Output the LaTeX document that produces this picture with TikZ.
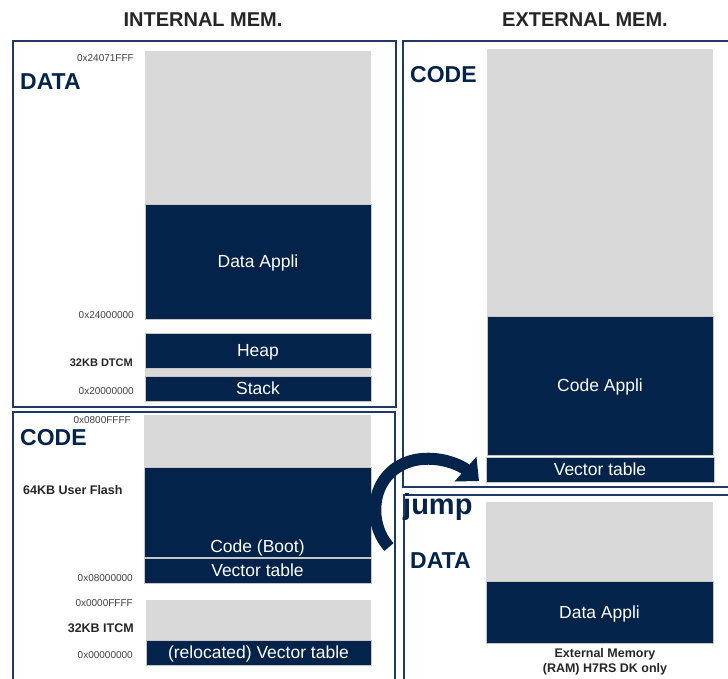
\documentclass[tikz,border=0pt]{standalone}
\usepackage{fontspec}
\setmainfont{Liberation Sans}
\usetikzlibrary{arrows.meta}
\definecolor{navy}{HTML}{03234B}
\definecolor{frame}{HTML}{1F3864}
\definecolor{greyfill}{HTML}{D9D9D9}
\definecolor{addrcol}{HTML}{404040}
\tikzset{
  darkblk/.style={fill=navy, draw=gray!45, line width=0.6pt, inner sep=0pt, text=white, text height=12.6pt, text depth=0pt, font=\fontsize{17.5}{20}\selectfont},
  greyblk/.style={fill=greyfill, draw=none, inner sep=0pt},
  addr/.style={anchor=east, text=addrcol, inner sep=0pt, font=\fontsize{10}{12}\selectfont},
  memlbl/.style={text=black!85, inner sep=0pt, font=\bfseries\fontsize{11}{13}\selectfont},
  sect/.style={anchor=west, text=navy, inner sep=0pt, font=\bfseries\fontsize{23}{26}\selectfont},
  titlelbl/.style={text=black!85, inner sep=0pt, font=\bfseries\fontsize{20}{22}\selectfont},
  outer/.style={draw=frame, line width=2pt},
  jumparrow/.style={draw=navy, line width=12pt, -{Triangle[width=32pt,length=18pt]}}
}
\begin{document}
\begin{tikzpicture}[x=1pt,y=-1pt]
\useasboundingbox (0,0) rectangle (728,679);
\clip (0,0) rectangle (728,679);
\fill[white] (0,0) rectangle (728,679);

% titles
\node[titlelbl] (tint) at (203,20) {INTERNAL MEM.};
\node[titlelbl] (text) at (585,20) {EXTERNAL MEM.};

% outer frames
\draw[outer] (13,41) rectangle (396,407);
\draw[outer] (13,412) rectangle (395,690);
\draw[outer] (403,41) rectangle (740,487);
\draw[outer] (404,495) rectangle (740,690);

% internal DATA
\node[greyblk, minimum width=226, minimum height=153] (dgrey) at (258,127.5) {};
\node[darkblk, minimum width=226, minimum height=115] (dapp) at (258,261.5) {Data Appli};
\node[greyblk, minimum width=226, minimum height=8] (hsgap) at (258,372) {};
\node[darkblk, minimum width=226, minimum height=35] (heap) at (258,350.5) {Heap};
\node[darkblk, minimum width=226, minimum height=25] (stack) at (258,388.5) {Stack};
\node[addr] (a1) at (134,58) {0x24071FFF};
\node[sect] (sdata) at (20,82) {DATA};
\node[addr] (a2) at (134,315) {0x24000000};
\node[memlbl, anchor=east] (dtcm) at (133,363) {32KB DTCM};
\node[addr] (a3) at (134,391) {0x20000000};

% internal CODE
\node[greyblk, minimum width=227, minimum height=52] (cgrey) at (257.5,441) {};
\node[darkblk, minimum width=227, minimum height=90] (cboot) at (257.5,512) {};
\node[text=white, inner sep=0pt, text height=12.6pt, text depth=0pt, font=\fontsize{17.5}{20}\selectfont] (cboott) at (257.5,546) {Code (Boot)};
\node[darkblk, minimum width=227, minimum height=25] (vt1) at (257.5,570.5) {Vector table};
\node[greyblk, minimum width=225, minimum height=40] (igrey) at (258.5,620) {};
\node[darkblk, minimum width=225, minimum height=25] (rvt) at (258.5,652.5) {(relocated) Vector table};
\node[addr] (a4) at (131,420) {0x0800FFFF};
\node[sect] (scode) at (20,438) {CODE};
\node[memlbl, anchor=west, font=\bfseries\fontsize{12.5}{15}\selectfont] (flash) at (23,490) {64KB User Flash};
\node[addr] (a5) at (133,578) {0x08000000};
\node[addr] (a6) at (133,603) {0x0000FFFF};
\node[memlbl, anchor=east, font=\bfseries\fontsize{12.5}{15}\selectfont] (itcm) at (134,628) {32KB ITCM};
\node[addr] (a7) at (133,655) {0x00000000};

% external CODE
\node[greyblk, minimum width=226, minimum height=267] (egrey) at (600,182.5) {};
\node[darkblk, minimum width=226, minimum height=139] (capp) at (600,385.5) {Code Appli};
\node[darkblk, minimum width=228, minimum height=25] (vt2) at (600,469.5) {Vector table};
\node[sect] (ecode) at (410,75) {CODE};

% external DATA
\node[greyblk, minimum width=227, minimum height=79] (edgrey) at (599.5,541.5) {};
\node[darkblk, minimum width=227, minimum height=62] (edapp) at (599.5,612) {Data Appli};
\node[sect] (edata) at (410,561) {DATA};
\node[memlbl, align=center, font=\bfseries\fontsize{12.5}{15}\selectfont] (extnote) at (605,661.5) {External Memory\\(RAM) H7RS DK only};

% jump arrow
\coordinate (jstart) at (389,547);
\coordinate (jmid) at (415,460);
\coordinate (jend) at (479,481);
\draw[jumparrow] (jstart) .. controls (366,522) and (370,470) .. (jmid)
  .. controls (440,455) and (462,466) .. (jend);
\node[sect, font=\bfseries\fontsize{29}{32}\selectfont] (jump) at (403,507) {jump};
\end{tikzpicture}
\end{document}
